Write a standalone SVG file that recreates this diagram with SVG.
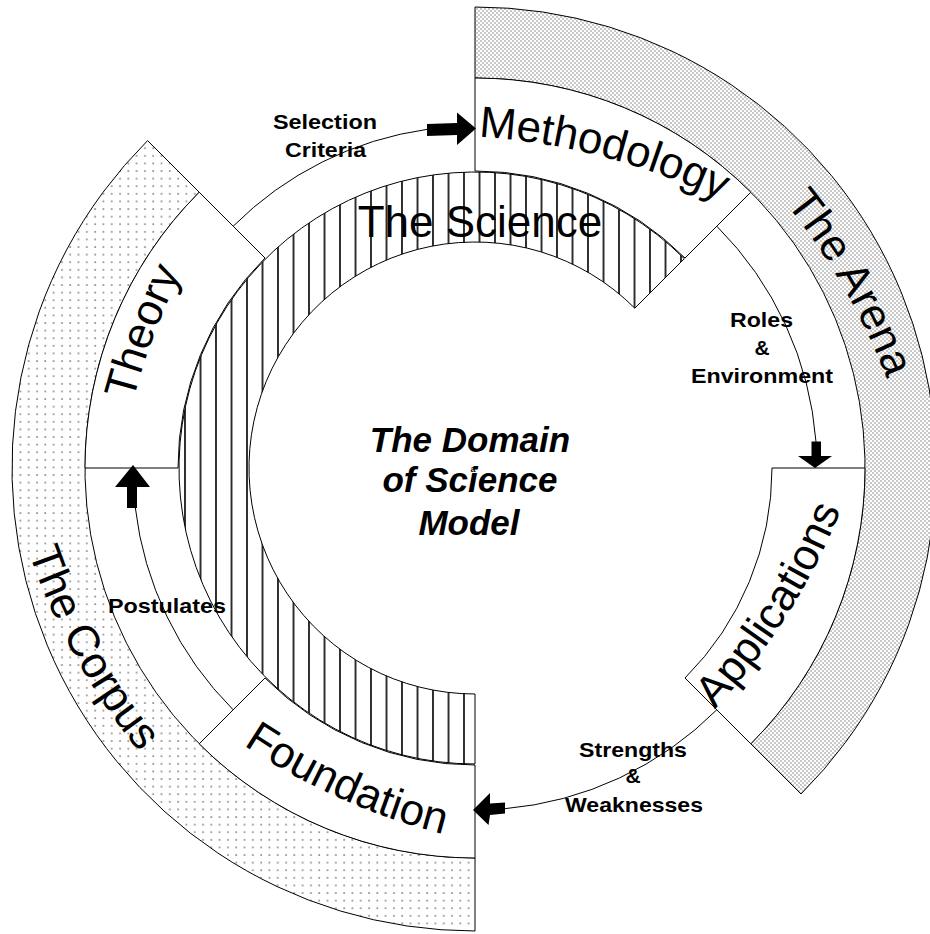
<svg xmlns="http://www.w3.org/2000/svg" xmlns:xlink="http://www.w3.org/1999/xlink" width="930" height="934" viewBox="0 0 930 934">
<style>
.edge{stroke:#000;stroke-width:1;}
.white{fill:#fff;}
.big{font-family:"Liberation Sans",Arial,sans-serif;font-size:44px;fill:#000;}
.lbl{font-family:"Liberation Sans",Arial,sans-serif;font-size:21px;font-weight:bold;fill:#000;text-anchor:middle;}
.title{font-family:"Liberation Sans",Arial,sans-serif;font-size:35px;font-weight:bold;font-style:italic;fill:#000;text-anchor:middle;}
.conn{fill:none;stroke:#000;stroke-width:1;}
.arrow{fill:#000;stroke:none;}
</style>
<defs>
<pattern id="vhatch" patternUnits="userSpaceOnUse" width="15.5" height="10">
<rect width="15.5" height="10" fill="#fff"/>
<line x1="14.5" y1="0" x2="14.5" y2="10" stroke="#000" stroke-width="1.6"/>
</pattern>
<pattern id="checker" patternUnits="userSpaceOnUse" width="4" height="4">
<rect width="4" height="4" fill="#fff"/>
<rect x="0" y="0" width="2" height="2" fill="#c8c8c8"/>
<rect x="2" y="2" width="2" height="2" fill="#c8c8c8"/>
</pattern>
<pattern id="dots" patternUnits="userSpaceOnUse" width="8.3" height="7.6">
<rect width="8.3" height="7.6" fill="#fff"/>
<rect x="3" y="3" width="1.7" height="1.7" fill="#8f8f8f"/>
</pattern>
<path id="p-meth" d="M455,135.7 A650,650 0 0 1 742,211"/>
<path id="p-appl" d="M705,719.5 A650,650 0 0 0 846,496.7"/>
<path id="p-found" d="M216,725.6 A650,650 0 0 0 476,841.7"/>
<path id="p-theory" d="M127,427.2 A650,650 0 0 1 193.6,249.3"/>
<path id="p-arena" d="M765.4,179.6 A650,650 0 0 1 897.3,408"/>
<path id="p-corpus" d="M19.3,522.8 A650,650 0 0 0 159.6,775.5"/>
</defs>
<rect width="930" height="934" fill="#fff"/>

<g id="arena">
<path class="edge" fill="url(#checker)" d="M475,78 L475,7 A461,461 0 0 1 801,794 L750.8,743.8 A390,390 0 0 0 475,78 Z"/>
<text class="big" font-size="45"><textPath href="#p-arena" startOffset="50%" text-anchor="middle">The Arena</textPath></text>
</g>

<g id="corpus">
<path class="edge" fill="url(#dots)" d="M199.2,192.2 L147.6,140.6 A463,463 0 0 0 475,931 L475,858 A390,390 0 0 1 199.2,192.2 Z"/>
<text class="big" font-size="45"><textPath href="#p-corpus" startOffset="50%" text-anchor="middle">The Corpus</textPath></text>
</g>

<g id="science">
<path class="edge" fill="url(#vhatch)" d="M684.3,258.7 A296,296 0 1 0 475,764 L475,694 A226,226 0 1 1 634.8,308.2 Z"/>
<text class="big" x="480" y="237" font-size="47" text-anchor="middle">The Science</text>
</g>

<g id="methodology">
<path class="edge white" d="M475,171 L475,78 A390,390 0 0 1 750.8,192.2 L685,258 A297,297 0 0 0 475,171 Z"/>
<text class="big"><textPath href="#p-meth" startOffset="50%" text-anchor="middle">Methodology</textPath></text>
</g>

<g id="applications">
<path class="edge white" d="M772,468 L865,468 A390,390 0 0 1 750.8,743.8 L685,678 A297,297 0 0 0 772,468 Z"/>
<text class="big" font-size="43"><textPath href="#p-appl" startOffset="50%" text-anchor="middle">Applications</textPath></text>
</g>

<g id="foundation">
<path class="edge white" d="M475,765 L475,858 A390,390 0 0 1 199.2,743.8 L265,678 A297,297 0 0 0 475,765 Z"/>
<text class="big" font-size="45"><textPath href="#p-found" startOffset="50%" text-anchor="middle">Foundation</textPath></text>
</g>

<g id="theory">
<path class="edge white" d="M178,468 L85,468 A390,390 0 0 1 199.2,192.2 L265,258 A297,297 0 0 0 178,468 Z"/>
<text class="big"><textPath href="#p-theory" startOffset="50%" text-anchor="middle">Theory</textPath></text>
</g>

<g id="connectors">
<path class="conn" d="M233.2,226.2 A342,342 0 0 1 427.4,129.3"/>
<path class="arrow" d="M476,128.5 L457,112.5 L457,123 L427,124 L427,136 L457,135 L457,145 Z"/>
<path class="conn" d="M716.8,226.2 A342,342 0 0 1 816,441.8"/>
<path class="arrow" d="M815,468 L798,456 L811.5,456 L811.5,441.5 L821,441.5 L821,456 L832,456 Z"/>
<path class="conn" d="M716.8,709.8 A342,342 0 0 1 504.8,808.7"/>
<path class="arrow" d="M473,810 L490,793 L490,803.5 L505,802.5 L505,813.5 L490,815 L488.5,825 Z"/>
<path class="conn" d="M233.2,709.8 A342,342 0 0 1 135.3,507.6"/>
<path class="arrow" d="M133,465 L115,487 L127,487 L127,508 L137,508 L137,487 L150,487 Z"/>
<text class="lbl" x="325" y="129" textLength="104" lengthAdjust="spacingAndGlyphs">Selection</text>
<text class="lbl" x="325.5" y="157" textLength="81" lengthAdjust="spacingAndGlyphs">Criteria</text>
<text class="lbl" x="761.5" y="327" textLength="63" lengthAdjust="spacingAndGlyphs">Roles</text>
<text class="lbl" x="762" y="355">&amp;</text>
<text class="lbl" x="762" y="383" textLength="142" lengthAdjust="spacingAndGlyphs">Environment</text>
<text class="lbl" x="633" y="757" textLength="108" lengthAdjust="spacingAndGlyphs">Strengths</text>
<text class="lbl" x="633" y="783">&amp;</text>
<text class="lbl" x="634" y="812" textLength="138" lengthAdjust="spacingAndGlyphs">Weaknesses</text>
<text class="lbl" x="167" y="613" textLength="118" lengthAdjust="spacingAndGlyphs">Postulates</text>
</g>

<g id="title">
<text class="title" x="470" y="452">The Domain</text>
<text class="title" x="470" y="492">of Science</text>
<text class="title" x="469" y="535">Model</text>
<text x="473" y="472" font-family="Liberation Sans,Arial,sans-serif" font-size="9" font-weight="bold" text-anchor="middle">a</text>
</g>
</svg>
